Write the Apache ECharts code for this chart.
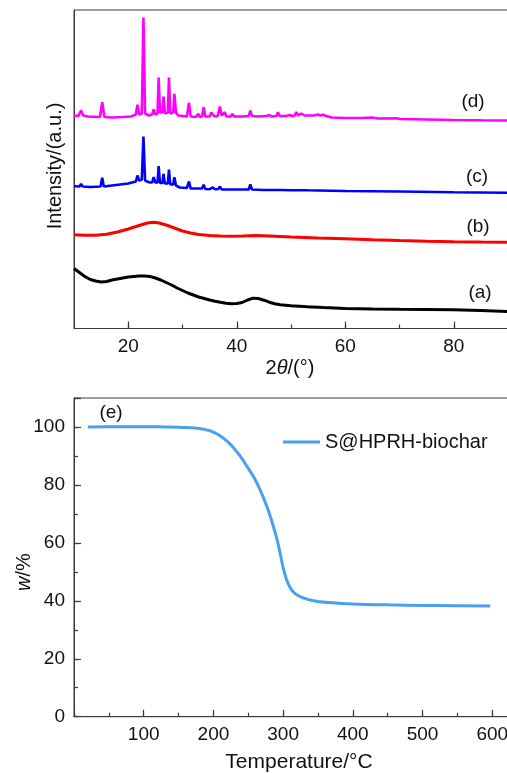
<!DOCTYPE html>
<html><head><meta charset="utf-8">
<script src="https://cdn.jsdelivr.net/npm/echarts@6.0.0/dist/echarts.min.js"></script>
<style>html,body{margin:0;padding:0;background:#fff}#c{width:507px;height:773px}</style>
</head><body><div id="c"></div>
<script>
// ---- XRD patterns: [2theta (deg), intensity (a.u., offset stacked)] ----
const patternA = [[10,60],[11,56],[12,52],[13,49],[14,47.5],[15,46.5],[16,47],[17,48.5],[18,49.5],[19,50.5],[20,51.5],[21,52],[22,52.5],[23,52.5],[24,52],[25,50.5],[26,48.5],[27,46],[28,43.5],[29,40.5],[30,38],[31,35.5],[32,33.5],[33,31.5],[34,30],[35,28.5],[36,27.2],[37,26.2],[38,25.3],[39,24.8],[40,25],[41,26],[42,28.5],[43,30.3],[44,30],[45,28.3],[46,26.3],[47,24.8],[48,23.8],[50,22.8],[53,21.8],[56,21],[60,20],[65,19.5],[70,19.2],[75,19],[80,18.8],[85,18],[90,17]];
const patternB = [[10,93.7],[12,93.2],[14,93.3],[16,94.3],[18,96.5],[20,99.5],[22,103],[23.5,105.5],[24.5,106.3],[25.5,105.7],[27,103.5],[28.5,100.5],[30,97.5],[31.5,95.5],[33,94],[35,93],[37,92.5],[39,92.2],[41,92.5],[43.5,93],[46,92.5],[50,91.5],[55,90.5],[60,89.8],[65,88.8],[70,88],[75,87.3],[80,86.8],[85,86.5],[90,86.3]];
const patternC = [[10,142.3],[11,142],[11.3,144.7],[11.6,142],[13,141.5],[14.9,142],[15.2,150.7],[15.5,142],[17,143],[18.5,144],[20,145],[21.4,147],[21.7,153],[22,148],[22.5,149],[22.8,192],[23.1,148],[23.8,146.3],[24.4,146],[24.7,151.3],[25,146],[25.4,146],[25.6,162.3],[25.85,145.5],[26.3,145.5],[26.5,154.7],[26.75,145],[27.3,145],[27.5,159],[27.75,144],[28.3,144],[28.5,151.3],[28.8,143],[29.5,141],[30.8,140.5],[31.2,147],[31.5,140],[33.6,140],[33.9,143.7],[34.2,139.5],[35,139.3],[35.6,141],[36,139.3],[36.6,139.5],[36.9,142],[37.2,139],[38.9,139],[39.2,140.5],[39.5,139],[42.2,139],[42.5,144],[42.8,139],[45,138.5],[47.3,138.5],[47.6,140.5],[47.9,138.5],[50,138.3],[50.7,138.3],[51,140],[51.3,138.3],[52.5,138.3],[52.8,139.5],[53.1,138.2],[55,138],[60,137.5],[70,137],[80,136.3],[90,135.7]];
const patternD = [[10,213],[10.8,212.5],[11.3,218],[11.7,213],[12.5,212],[14.8,211.5],[15.2,226.3],[15.6,211.5],[17,211],[19,211.5],[20.5,212],[21.4,214],[21.7,223.7],[22,214],[22.5,215],[22.8,311],[23.1,215],[23.8,213],[24.4,214],[24.7,219],[25,214],[25.4,215],[25.6,251],[25.85,216],[26.3,216],[26.5,232],[26.75,215],[27.3,216],[27.5,251],[27.75,215],[28.3,216],[28.5,234.7],[28.8,216],[29.2,213],[30.8,212],[31.2,225.7],[31.5,212],[32.5,211.5],[32.9,214.7],[33.2,211.5],[33.6,212],[33.9,221.3],[34.2,212],[35,212],[35.3,216],[35.6,217],[35.9,212],[36.5,212.5],[36.9,222],[37.2,213],[37.5,213],[37.8,216.3],[38.1,212],[38.9,212],[39.2,214.7],[39.5,212],[41,212],[42.2,212.5],[42.5,218],[42.8,212.5],[44,212],[45.5,212.5],[46,213.5],[46.4,212],[47.3,212.5],[47.6,216.3],[47.9,212.5],[49,212.5],[49.8,213.5],[50.2,212.5],[50.7,213],[51,216.3],[51.3,213],[51.6,213],[51.9,215],[52.2,213],[52.5,213],[52.8,215],[53.1,213],[53.5,213],[53.8,215],[54.1,213],[54.6,213.5],[55,214],[55.4,213],[55.9,213.7],[56.5,212.5],[57.5,211],[60,210.5],[63,210.5],[65,211],[66,210],[69.5,210.3],[70,209.5],[75,209],[80,208.5],[85,208.2],[90,208]];
const xrdLabels = ['(a)','(b)','(c)','(d)'];
const xrdTickCats = ['10','20','30','40','50','60','70','80','90'];
const xrdLabelEvery = 20;

// ---- TGA ----
const tgaTemp   = [20,50,100,130,150,160,170,180,190,200,210,220,230,240,250,260,270,280,290,295,300,305,310,315,320,330,340,350,370,400,450,500,550,597];
const tgaWeight = [100,100.1,100.1,100,99.9,99.8,99.7,99.5,99.0,98.2,96.9,95.0,92.5,89.4,85.7,81.8,76.6,70.3,62.3,57.2,51.5,47.3,44.6,43.0,42.0,40.9,40.2,39.8,39.3,38.9,38.6,38.4,38.3,38.2];
const tgaName = 'S@HPRH-biochar';

const FF = '"Liberation Sans", Arial, Helvetica, sans-serif';
const AX = '#3a3a3a';
const TXT = '#111';

const chart = echarts.init(document.getElementById('c'), null, {renderer:'canvas'});

const labelStyle = {margin:9, fontSize:19, fontFamily:FF, color:TXT};
const noLine = {show:false, onZero:false};
const lineOn = {show:true, onZero:false, lineStyle:{color:AX, width:1}};
const ticks = len => ({show:true, inside:true, length:len, lineStyle:{color:AX, width:1.2}});

const option = {
  backgroundColor:'#fff',
  animation:false,
  grid:[
    {left:74, top:10, width:434, height:318.5, show:true, borderColor:AX, borderWidth:1, backgroundColor:'transparent', outerBoundsMode:'none', containLabel:false},
    {left:74, top:398, width:434, height:318.7, show:true, borderColor:AX, borderWidth:1, backgroundColor:'transparent', outerBoundsMode:'none', containLabel:false}
  ],
  xAxis:[
    // 0: XRD data axis: line + labels only
    {type:'value', gridIndex:0, min:10, max:90, interval:10, position:'bottom', offset:0,
     axisLine:lineOn, axisTick:{show:false},
     axisLabel:Object.assign({show:true, formatter:v => (v%xrdLabelEvery===0) ? String(v) : ''}, labelStyle),
     splitLine:{show:false}},
    // 1: XRD minor ticks (every 10)
    {type:'value', gridIndex:0, min:10, max:90, interval:10, position:'bottom', offset:0,
     axisLine:noLine, axisTick:ticks(4), axisLabel:{show:false}, splitLine:{show:false}},
    // 2: XRD major ticks (every 20) via category overlay
    {type:'category', gridIndex:0, data:xrdTickCats, boundaryGap:false, position:'bottom', offset:0,
     axisLine:noLine,
     axisTick:Object.assign(ticks(7), {interval:(i,v)=>(+v)%xrdLabelEvery===0}),
     axisLabel:{show:false}, splitLine:{show:false}},
    // 3: TGA line + labels
    {type:'value', gridIndex:1, min:0, max:622.6, interval:100, position:'bottom', offset:0,
     axisLine:lineOn, axisTick:{show:false},
     axisLabel:Object.assign({show:true, formatter:v => (v>0 && v%100===0) ? String(v) : ''}, labelStyle),
     splitLine:{show:false}},
    // 4: TGA major ticks
    {type:'value', gridIndex:1, min:0, max:622.6, interval:100, position:'bottom', offset:0,
     axisLine:noLine, axisTick:ticks(7), axisLabel:{show:false}, splitLine:{show:false}},
    // 5: TGA minor ticks
    {type:'value', gridIndex:1, min:0, max:622.6, interval:50, position:'bottom', offset:0,
     axisLine:noLine, axisTick:ticks(4), axisLabel:{show:false}, splitLine:{show:false}}
  ],
  yAxis:[
    {type:'value', gridIndex:0, min:0, max:318.5, position:'left', offset:0,
     axisLine:lineOn, axisTick:{show:false}, axisLabel:{show:false}, splitLine:{show:false}},
    {type:'value', gridIndex:1, min:0, max:110, interval:20, position:'left', offset:0,
     axisLine:lineOn, axisTick:{show:false},
     axisLabel:Object.assign({show:true, formatter:v => (v%20===0 && v<=100) ? String(v) : ''}, labelStyle),
     splitLine:{show:false}},
    {type:'value', gridIndex:1, min:0, max:110, interval:20, position:'left', offset:0,
     axisLine:noLine, axisTick:ticks(7), axisLabel:{show:false}, splitLine:{show:false}},
    {type:'value', gridIndex:1, min:0, max:110, interval:10, position:'left', offset:0,
     axisLine:noLine, axisTick:ticks(4), axisLabel:{show:false}, splitLine:{show:false}}
  ],
  legend:{
    data:[tgaName], left:278, top:427, itemWidth:37, itemHeight:3, icon:'rect', itemGap:5,
    textStyle:{fontSize:20, fontFamily:FF, color:TXT}, selectedMode:false
  },
  series:[
    {name:'(a)', type:'line', xAxisIndex:0, yAxisIndex:0, data:patternA, showSymbol:false, symbol:'none', lineStyle:{color:'#000000', width:3}, silent:true, z:3},
    {name:'(b)', type:'line', xAxisIndex:0, yAxisIndex:0, data:patternB, showSymbol:false, symbol:'none', lineStyle:{color:'#ff0000', width:3}, silent:true, z:3},
    {name:'(c)', type:'line', xAxisIndex:0, yAxisIndex:0, data:patternC, showSymbol:false, symbol:'none', lineStyle:{color:'#0000ff', width:2.6}, silent:true, z:3},
    {name:'(d)', type:'line', xAxisIndex:0, yAxisIndex:0, data:patternD, showSymbol:false, symbol:'none', lineStyle:{color:'#ff00ff', width:2.6}, silent:true, z:3},
    {
      name:tgaName, type:'line', xAxisIndex:3, yAxisIndex:1,
      data:tgaTemp.map((t,i)=>[t, tgaWeight[i]]),
      smooth:0.5, showSymbol:false, symbol:'none',
      lineStyle:{color:'#4aa0f0', width:3}, itemStyle:{color:'#4aa0f0'}
    }
  ],
  graphic:[
    {type:'text', x:473, y:102, style:{text:xrdLabels[3], fontSize:19, fontFamily:FF, fill:TXT, align:'center', verticalAlign:'middle'}},
    {type:'text', x:477, y:177, style:{text:xrdLabels[2], fontSize:19, fontFamily:FF, fill:TXT, align:'center', verticalAlign:'middle'}},
    {type:'text', x:478, y:227, style:{text:xrdLabels[1], fontSize:19, fontFamily:FF, fill:TXT, align:'center', verticalAlign:'middle'}},
    {type:'text', x:480, y:293, style:{text:xrdLabels[0], fontSize:19, fontFamily:FF, fill:TXT, align:'center', verticalAlign:'middle'}},
    {type:'text', x:111, y:413, style:{text:'(e)', fontSize:19, fontFamily:FF, fill:TXT, align:'center', verticalAlign:'middle'}},
    {type:'text', x:55, y:166, rotation:Math.PI/2, style:{text:'Intensity/(a.u.)', fontSize:20, fontFamily:FF, fill:TXT, align:'center', verticalAlign:'middle'}},
    {type:'text', x:290, y:368, style:{text:'2{i|θ}/(°)', fontSize:20, fontFamily:FF, fill:TXT, align:'center', verticalAlign:'middle',
      rich:{i:{fontStyle:'italic', fontSize:20, fontFamily:FF, fill:TXT}}}},
    {type:'text', x:24, y:572, rotation:Math.PI/2, style:{text:'{i|w}/%', fontSize:20, fontFamily:FF, fill:TXT, align:'center', verticalAlign:'middle',
      rich:{i:{fontStyle:'italic', fontSize:20, fontFamily:FF, fill:TXT}}}},
    {type:'text', x:299, y:762, style:{text:'Temperature/°C', fontSize:21, fontFamily:FF, fill:TXT, align:'center', verticalAlign:'middle'}}
  ]
};
chart.setOption(option);
</script>
</body></html>
